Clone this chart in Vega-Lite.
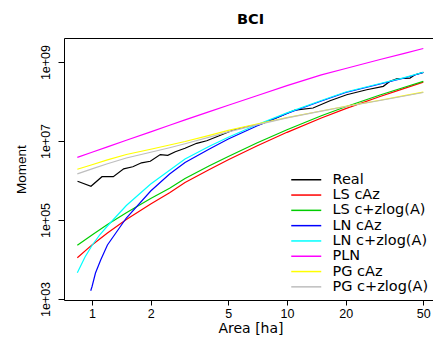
{
  "$schema": "https://vega.github.io/schema/vega-lite/v6.json",
  "width": 373,
  "height": 262,
  "autosize": {"type": "none"},
  "padding": {"left": 64, "top": 38, "right": -4, "bottom": 40},
  "background": "white",
  "title": {"text": "BCI", "font": "DejaVu Sans", "fontSize": 14.5, "fontWeight": "bold", "anchor": "middle", "baseline": "alphabetic", "offset": -0.5, "color": "black"},
  "config": {
    "view": {"stroke": "black", "strokeWidth": 1},
    "axis": {"grid": false, "domain": false, "tickColor": "black", "labelColor": "black", "titleColor": "black", "labelFont": "Liberation Sans", "labelFontSize": 12.5, "titleFontWeight": "normal", "labelFlush": false, "labelOverlap": false}
  },
  "data": {"values": [
    {"s": "Real", "a": 0.843, "m": 960000},
    {"s": "Real", "a": 0.988, "m": 713000},
    {"s": "Real", "a": 1.125, "m": 1248000},
    {"s": "Real", "a": 1.286, "m": 1248000},
    {"s": "Real", "a": 1.454, "m": 1978000},
    {"s": "Real", "a": 1.619, "m": 2236000},
    {"s": "Real", "a": 1.794, "m": 2806000},
    {"s": "Real", "a": 1.99, "m": 3081000},
    {"s": "Real", "a": 2.24, "m": 4551000},
    {"s": "Real", "a": 2.447, "m": 4345000},
    {"s": "Real", "a": 2.674, "m": 5360000},
    {"s": "Real", "a": 2.999, "m": 6540000},
    {"s": "Real", "a": 3.443, "m": 8750000},
    {"s": "Real", "a": 3.875, "m": 10180000},
    {"s": "Real", "a": 4.362, "m": 12850000},
    {"s": "Real", "a": 5.305, "m": 18990000},
    {"s": "Real", "a": 6.214, "m": 23010000},
    {"s": "Real", "a": 7.271, "m": 26470000},
    {"s": "Real", "a": 8.68, "m": 37560000},
    {"s": "Real", "a": 10.99, "m": 60900000},
    {"s": "Real", "a": 13.6, "m": 68450000},
    {"s": "Real", "a": 16.62, "m": 104800000},
    {"s": "Real", "a": 20.24, "m": 148700000},
    {"s": "Real", "a": 25.63, "m": 199000000},
    {"s": "Real", "a": 31.18, "m": 242600000},
    {"s": "Real", "a": 33.75, "m": 324600000},
    {"s": "Real", "a": 36.53, "m": 377800000},
    {"s": "Real", "a": 42.73, "m": 393400000},
    {"s": "Real", "a": 45.34, "m": 477000000},
    {"s": "Real", "a": 50, "m": 548700000},

    {"s": "LS cAz", "a": 0.841, "m": 11110},
    {"s": "LS cAz", "a": 1, "m": 23420},
    {"s": "LS cAz", "a": 1.2, "m": 47150},
    {"s": "LS cAz", "a": 1.5, "m": 103000},
    {"s": "LS cAz", "a": 2, "m": 254200},
    {"s": "LS cAz", "a": 2.5, "m": 488000},
    {"s": "LS cAz", "a": 3, "m": 890000},
    {"s": "LS cAz", "a": 4, "m": 1910000},
    {"s": "LS cAz", "a": 5, "m": 3360000},
    {"s": "LS cAz", "a": 7, "m": 7470000},
    {"s": "LS cAz", "a": 10, "m": 16610000},
    {"s": "LS cAz", "a": 15, "m": 38400000},
    {"s": "LS cAz", "a": 20, "m": 66100000},
    {"s": "LS cAz", "a": 30, "m": 133800000},
    {"s": "LS cAz", "a": 40, "m": 215900000},
    {"s": "LS cAz", "a": 50, "m": 310000000},

    {"s": "LS c+zlog(A)", "a": 0.841, "m": 22880},
    {"s": "LS c+zlog(A)", "a": 1, "m": 41960},
    {"s": "LS c+zlog(A)", "a": 1.2, "m": 76500},
    {"s": "LS c+zlog(A)", "a": 1.5, "m": 153000},
    {"s": "LS c+zlog(A)", "a": 2, "m": 350000},
    {"s": "LS c+zlog(A)", "a": 2.5, "m": 635000},
    {"s": "LS c+zlog(A)", "a": 3, "m": 1124000},
    {"s": "LS c+zlog(A)", "a": 4, "m": 2360000},
    {"s": "LS c+zlog(A)", "a": 5, "m": 4070000},
    {"s": "LS c+zlog(A)", "a": 7, "m": 8900000},
    {"s": "LS c+zlog(A)", "a": 10, "m": 19320000},
    {"s": "LS c+zlog(A)", "a": 15, "m": 43700000},
    {"s": "LS c+zlog(A)", "a": 20, "m": 73900000},
    {"s": "LS c+zlog(A)", "a": 30, "m": 146100000},
    {"s": "LS c+zlog(A)", "a": 40, "m": 230000000},
    {"s": "LS c+zlog(A)", "a": 50, "m": 325000000},

    {"s": "LN cAz", "a": 0.985, "m": 1623},
    {"s": "LN cAz", "a": 1, "m": 2048},
    {"s": "LN cAz", "a": 1.042, "m": 4550},
    {"s": "LN cAz", "a": 1.108, "m": 9712},
    {"s": "LN cAz", "a": 1.2, "m": 23290},
    {"s": "LN cAz", "a": 1.5, "m": 112400},
    {"s": "LN cAz", "a": 2, "m": 542000},
    {"s": "LN cAz", "a": 2.5, "m": 1461000},
    {"s": "LN cAz", "a": 3, "m": 2856000},
    {"s": "LN cAz", "a": 4, "m": 6270000},
    {"s": "LN cAz", "a": 5, "m": 11240000},
    {"s": "LN cAz", "a": 7, "m": 23970000},
    {"s": "LN cAz", "a": 10, "m": 49700000},
    {"s": "LN cAz", "a": 15, "m": 103000000},
    {"s": "LN cAz", "a": 20, "m": 169000000},
    {"s": "LN cAz", "a": 30, "m": 277300000},
    {"s": "LN cAz", "a": 40, "m": 393400000},
    {"s": "LN cAz", "a": 50, "m": 542000000},

    {"s": "LN c+zlog(A)", "a": 0.841, "m": 4634},
    {"s": "LN c+zlog(A)", "a": 0.921, "m": 11560},
    {"s": "LN c+zlog(A)", "a": 1, "m": 22620},
    {"s": "LN c+zlog(A)", "a": 1.099, "m": 42950},
    {"s": "LN c+zlog(A)", "a": 1.2, "m": 70500},
    {"s": "LN c+zlog(A)", "a": 1.5, "m": 232900},
    {"s": "LN c+zlog(A)", "a": 2, "m": 815500},
    {"s": "LN c+zlog(A)", "a": 2.5, "m": 1813000},
    {"s": "LN c+zlog(A)", "a": 3, "m": 3522000},
    {"s": "LN c+zlog(A)", "a": 4, "m": 7340000},
    {"s": "LN c+zlog(A)", "a": 5, "m": 12410000},
    {"s": "LN c+zlog(A)", "a": 7, "m": 25860000},
    {"s": "LN c+zlog(A)", "a": 10, "m": 51750000},
    {"s": "LN c+zlog(A)", "a": 15, "m": 106000000},
    {"s": "LN c+zlog(A)", "a": 20, "m": 174000000},
    {"s": "LN c+zlog(A)", "a": 30, "m": 285600000},
    {"s": "LN c+zlog(A)", "a": 40, "m": 402900000},
    {"s": "LN c+zlog(A)", "a": 50, "m": 552000000},

    {"s": "PLN", "a": 0.841, "m": 3870000},
    {"s": "PLN", "a": 1, "m": 5210000},
    {"s": "PLN", "a": 1.2, "m": 7130000},
    {"s": "PLN", "a": 1.5, "m": 10480000},
    {"s": "PLN", "a": 2, "m": 17100000},
    {"s": "PLN", "a": 2.5, "m": 25100000},
    {"s": "PLN", "a": 3, "m": 34200000},
    {"s": "PLN", "a": 4, "m": 55500000},
    {"s": "PLN", "a": 5, "m": 80600000},
    {"s": "PLN", "a": 7, "m": 140000000},
    {"s": "PLN", "a": 10, "m": 253000000},
    {"s": "PLN", "a": 15, "m": 474000000},
    {"s": "PLN", "a": 20, "m": 685000000},
    {"s": "PLN", "a": 30, "m": 1157000000},
    {"s": "PLN", "a": 40, "m": 1660000000},
    {"s": "PLN", "a": 50, "m": 2200000000},

    {"s": "PG cAz", "a": 0.841, "m": 1930000},
    {"s": "PG cAz", "a": 1, "m": 2510000},
    {"s": "PG cAz", "a": 1.2, "m": 3320000},
    {"s": "PG cAz", "a": 1.5, "m": 4550000},
    {"s": "PG cAz", "a": 2, "m": 6200000},
    {"s": "PG cAz", "a": 2.5, "m": 7920000},
    {"s": "PG cAz", "a": 3, "m": 9710000},
    {"s": "PG cAz", "a": 4, "m": 13940000},
    {"s": "PG cAz", "a": 5, "m": 18550000},
    {"s": "PG cAz", "a": 7, "m": 26900000},
    {"s": "PG cAz", "a": 10, "m": 39100000},
    {"s": "PG cAz", "a": 15, "m": 57500000},
    {"s": "PG cAz", "a": 20, "m": 75600000},
    {"s": "PG cAz", "a": 30, "m": 107900000},
    {"s": "PG cAz", "a": 40, "m": 141000000},
    {"s": "PG cAz", "a": 50, "m": 173000000},

    {"s": "PG c+zlog(A)", "a": 0.841, "m": 1469000},
    {"s": "PG c+zlog(A)", "a": 1, "m": 1967000},
    {"s": "PG c+zlog(A)", "a": 1.2, "m": 2660000},
    {"s": "PG c+zlog(A)", "a": 1.5, "m": 3710000},
    {"s": "PG c+zlog(A)", "a": 2, "m": 5210000},
    {"s": "PG c+zlog(A)", "a": 2.5, "m": 6770000},
    {"s": "PG c+zlog(A)", "a": 3, "m": 8540000},
    {"s": "PG c+zlog(A)", "a": 4, "m": 12550000},
    {"s": "PG c+zlog(A)", "a": 5, "m": 17000000},
    {"s": "PG c+zlog(A)", "a": 7, "m": 25700000},
    {"s": "PG c+zlog(A)", "a": 10, "m": 38700000},
    {"s": "PG c+zlog(A)", "a": 15, "m": 57100000},
    {"s": "PG c+zlog(A)", "a": 20, "m": 74700000},
    {"s": "PG c+zlog(A)", "a": 30, "m": 106000000},
    {"s": "PG c+zlog(A)", "a": 40, "m": 137800000},
    {"s": "PG c+zlog(A)", "a": 50, "m": 169000000}
  ]},
  "mark": {"type": "line", "strokeWidth": 1.2, "clip": true},
  "encoding": {
    "x": {
      "field": "a", "type": "quantitative",
      "scale": {"type": "log", "domain": [0.7185, 58.78], "nice": false},
      "axis": {"title": "Area [ha]", "values": [1, 2, 5, 10, 20, 50], "tickSize": 5, "labelPadding": 2, "labelExpr": "'' + datum.value", "titleX": 186.5, "titleY": 32, "titleBaseline": "alphabetic", "titleAlign": "center", "titleFont": "DejaVu Sans", "titleFontSize": 14}
    },
    "y": {
      "field": "m", "type": "quantitative",
      "scale": {"type": "log", "domain": [944, 4060000000], "nice": false},
      "axis": {"title": "Moment", "values": [1000, 100000, 10000000, 1000000000], "tickSize": 6, "labelAngle": -90, "labelAlign": "center", "labelBaseline": "alphabetic", "labelPadding": 8.5, "labelExpr": "'1e+0' + round(log(datum.value) / LN10)", "titleAngle": -90, "titleX": -39, "titleY": 131, "titleAlign": "center", "titleBaseline": "alphabetic", "titleFont": "Liberation Sans", "titleFontSize": 13.5}
    },
    "color": {
      "field": "s", "type": "nominal",
      "scale": {"domain": ["Real", "LS cAz", "LS c+zlog(A)", "LN cAz", "LN c+zlog(A)", "PLN", "PG cAz", "PG c+zlog(A)"], "range": ["#000000", "#FF0000", "#00CD00", "#0000FF", "#00FFFF", "#FF00FF", "#FFFF00", "#BEBEBE"]},
      "legend": {"title": null, "orient": "none", "legendX": 235, "legendY": 134.5, "symbolType": "M-3,0H3", "symbolSize": 100, "symbolStrokeWidth": 1.5, "labelFont": "DejaVu Sans", "labelFontSize": 14.5, "labelColor": "black", "labelOffset": 19, "rowPadding": 0.3, "padding": 0}
    }
  }
}
